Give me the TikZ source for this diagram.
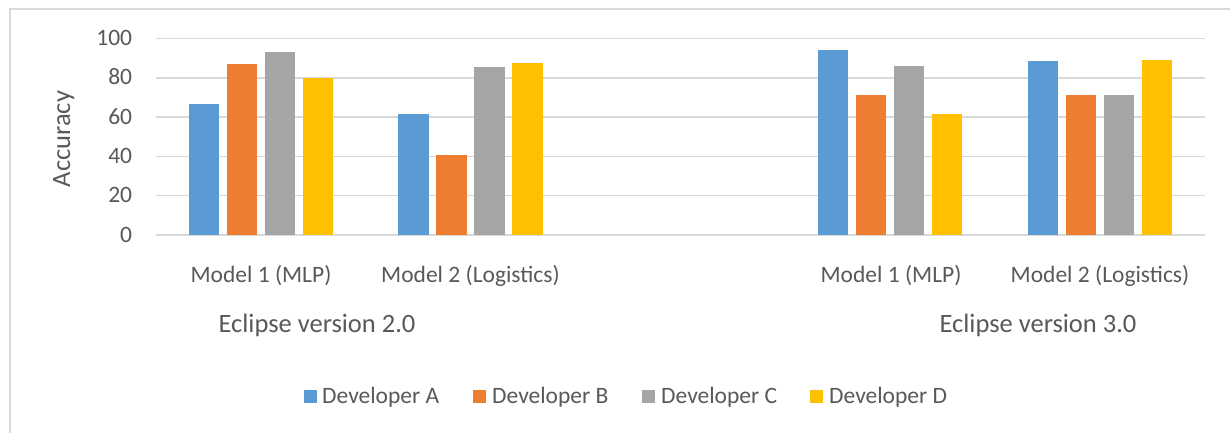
\documentclass[tikz,border=0pt]{standalone}
\usepackage{fontspec}
\setmainfont{Carlito}
\definecolor{devA}{HTML}{5B9BD5}
\definecolor{devB}{HTML}{ED7D31}
\definecolor{devC}{HTML}{A5A5A5}
\definecolor{devD}{HTML}{FFC000}
\definecolor{txt}{HTML}{595959}
\definecolor{grid}{HTML}{D9D9D9}
\begin{document}
\begin{tikzpicture}[x=1pt,y=-1pt,
  lbl/.style={inner sep=0pt,text=txt,font=\fontsize{23.5}{28}\selectfont},
  biglbl/.style={inner sep=0pt,text=txt,font=\fontsize{26.5}{32}\selectfont},
  gridline/.style={draw=grid,line width=1.5pt},
  frameline/.style={draw=grid,line width=2pt},
  bar/.style={inner sep=0pt,outer sep=0pt,minimum width=30.5pt,anchor=south}]
\useasboundingbox (0,0) rectangle (1230,432);
\fill[white] (0,0) rectangle (1230,432);
% frame
\coordinate (fbl) at (10,433);
\coordinate (ftl) at (10,9);
\coordinate (ftr) at (1231,9);
\draw[frameline] (fbl) -- (ftl) -- (ftr);
% gridlines and tick labels
\foreach \v [count=\i] in {0,20,40,60,80,100}{
  \pgfmathsetmacro{\yy}{235-\v*1.965}
  \coordinate (gl\i) at (156,\yy);
  \coordinate (gr\i) at (1205,\yy);
  \draw[gridline] (gl\i) -- (gr\i);
  \node[lbl,anchor=base east] (tick\i) at (132.3,\yy+7) {\v};
}
% bars
\newcommand{\bargroup}[6]{%
  \foreach \val/\off/\col/\nm in {#2/-57/devA/a,#3/-19/devB/b,#4/19/devC/c,#5/57/devD/d}{
    \pgfmathsetmacro{\hh}{\val*1.965}
    \node[bar,fill=\col,minimum height=\hh pt] (#6\nm) at (#1+\off,235) {};
  }}
\bargroup{261}{66.7}{87.2}{93.1}{80}{ga}
\bargroup{470.5}{61.6}{40.7}{85.5}{87.5}{gb}
\bargroup{890}{94.1}{71.2}{86}{61.6}{gc}
\bargroup{1100}{88.5}{71.2}{71.2}{89}{gd}
% category labels
\node[lbl,anchor=base] (c1) at (261,282) {Model 1 (MLP)};
\node[lbl,anchor=base] (c2) at (470.5,282) {Model 2 (Logistics)};
\node[lbl,anchor=base] (c3) at (891,282) {Model 1 (MLP)};
\node[lbl,anchor=base] (c4) at (1100,282) {Model 2 (Logistics)};
\node[biglbl,anchor=base] (e1) at (317,332) {Eclipse version 2.0};
\node[biglbl,anchor=base] (e2) at (1038,332) {Eclipse version 3.0};
% axis title
\node[biglbl,anchor=base,rotate=90] (ytitle) at (70,139) {Accuracy};
% legend
\foreach \sx/\tx/\col/\name/\nm in {303.3/322/devA/Developer A/la,473/492/devB/Developer B/lb,642/661/devC/Developer C/lc,810/829/devD/Developer D/ld}{
  \node[inner sep=0pt,minimum size=13pt,fill=\col,anchor=north west] (\nm sq) at (\sx,390) {};
  \node[lbl,anchor=base west] (\nm tx) at (\tx,403.3) {\name};
}
\end{tikzpicture}
\end{document}
